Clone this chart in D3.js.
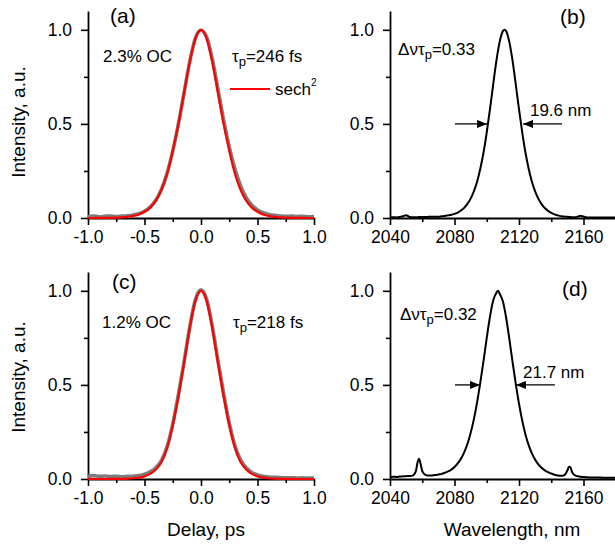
<!DOCTYPE html>
<html>
<head>
<meta charset="utf-8">
<script src="https://cdn.jsdelivr.net/npm/d3@7"></script>
<style>
  body { margin: 0; background: #fff; }
  text { font-family: "Liberation Sans", Arial, sans-serif; fill: #000; }
</style>
</head>
<body>
<svg id="fig" width="615" height="546"></svg>
<script>
// autocorrelation traces (a), (c)
const delay = [-1.00, -0.95, -0.90, -0.85, -0.80, -0.75, -0.70, -0.65, -0.60, -0.55, -0.50,
  -0.45, -0.40, -0.35, -0.30, -0.25, -0.20, -0.15, -0.10, -0.05, 0.00, 0.05, 0.10, 0.15,
  0.20, 0.25, 0.30, 0.35, 0.40, 0.45, 0.50, 0.55, 0.60, 0.65, 0.70, 0.75, 0.80, 0.85, 0.90,
  0.95, 1.00];

const acMeasA = [0.008, 0.010, 0.007, 0.009, 0.011, 0.008, 0.010, 0.012, 0.016, 0.023, 0.036,
  0.058, 0.094, 0.152, 0.238, 0.355, 0.500, 0.665, 0.830, 0.955, 0.998, 0.962, 0.845, 0.685,
  0.522, 0.378, 0.262, 0.172, 0.108, 0.068, 0.043, 0.028, 0.019, 0.014, 0.011, 0.009, 0.010,
  0.008, 0.009, 0.007, 0.008];
const acFitA = [0, 0, 0.001, 0.001, 0.001, 0.002, 0.003, 0.006, 0.011, 0.019, 0.033, 0.055,
  0.092, 0.150, 0.235, 0.358, 0.500, 0.664, 0.828, 0.953, 1.000, 0.953, 0.828, 0.664, 0.500,
  0.358, 0.235, 0.150, 0.092, 0.055, 0.033, 0.019, 0.011, 0.006, 0.003, 0.002, 0.001, 0.001,
  0.001, 0, 0];

const acMeasC = [0.015, 0.018, 0.014, 0.016, 0.013, 0.015, 0.012, 0.014, 0.015, 0.018, 0.025,
  0.038, 0.060, 0.098, 0.172, 0.292, 0.448, 0.622, 0.806, 0.952, 1.005, 0.955, 0.812, 0.630,
  0.455, 0.298, 0.178, 0.102, 0.060, 0.035, 0.022, 0.014, 0.011, 0.009, 0.008, 0.006, 0.007,
  0.005, 0.006, 0.005, 0.005];
const acFitC = [0, 0, 0, 0, 0.001, 0.001, 0.001, 0.002, 0.004, 0.007, 0.014, 0.027, 0.050,
  0.090, 0.165, 0.285, 0.440, 0.615, 0.800, 0.945, 1.000, 0.945, 0.800, 0.615, 0.440, 0.285,
  0.165, 0.090, 0.050, 0.027, 0.014, 0.007, 0.004, 0.002, 0.001, 0.001, 0.001, 0, 0, 0, 0];

// spectra (b), (d)
const wlB = [2040, 2042, 2044, 2046, 2048, 2050, 2052, 2054, 2056, 2058, 2060, 2062, 2064, 2066,
  2068, 2070, 2072, 2074, 2076, 2078, 2080, 2082, 2084, 2086, 2088, 2090, 2092, 2094, 2096,
  2098, 2100, 2102, 2104, 2106, 2108, 2110, 2111, 2112, 2114, 2116, 2118, 2120, 2122, 2124,
  2126, 2128, 2130, 2132, 2134, 2136, 2138, 2140, 2142, 2144, 2146, 2148, 2150, 2152, 2154,
  2156, 2158, 2160, 2162, 2164, 2166, 2168, 2170, 2172, 2174, 2176, 2178, 2180];
const specB = [0.003, 0.004, 0.003, 0.005, 0.009, 0.014, 0.007, 0.004, 0.004, 0.005, 0.005,
  0.005, 0.006, 0.007, 0.007, 0.007, 0.009, 0.011, 0.014, 0.017, 0.022, 0.029, 0.040, 0.054,
  0.075, 0.103, 0.142, 0.193, 0.262, 0.348, 0.455, 0.578, 0.710, 0.836, 0.936, 0.993, 1.000,
  0.993, 0.936, 0.836, 0.710, 0.578, 0.455, 0.348, 0.262, 0.193, 0.142, 0.103, 0.074, 0.053,
  0.038, 0.027, 0.019, 0.014, 0.010, 0.008, 0.006, 0.005, 0.004, 0.006, 0.012, 0.008, 0.003,
  0.002, 0.002, 0.002, 0.002, 0.002, 0.002, 0.002, 0.002, 0.002];

const wlD = [2040, 2042, 2044, 2046, 2048, 2050, 2052, 2054, 2056, 2057, 2058, 2059, 2060, 2062,
  2064, 2066, 2068, 2070, 2072, 2074, 2076, 2078, 2080, 2082, 2084, 2086, 2088, 2090, 2092,
  2094, 2096, 2098, 2100, 2102, 2104, 2106, 2107, 2108, 2110, 2112, 2114, 2116, 2118, 2120,
  2122, 2124, 2126, 2128, 2130, 2132, 2134, 2136, 2138, 2140, 2142, 2144, 2146, 2148, 2150,
  2151, 2152, 2153, 2155, 2158, 2160, 2164, 2168, 2172, 2176, 2180];
const specD = [0.010, 0.012, 0.011, 0.013, 0.014, 0.015, 0.016, 0.018, 0.040, 0.085, 0.108,
  0.080, 0.042, 0.022, 0.018, 0.019, 0.021, 0.024, 0.027, 0.033, 0.040, 0.050, 0.064, 0.083,
  0.108, 0.142, 0.186, 0.244, 0.317, 0.407, 0.512, 0.628, 0.750, 0.862, 0.948, 0.990, 1.000,
  0.985, 0.944, 0.858, 0.745, 0.622, 0.505, 0.400, 0.310, 0.237, 0.180, 0.136, 0.103, 0.078,
  0.060, 0.046, 0.036, 0.029, 0.023, 0.019, 0.017, 0.020, 0.045, 0.065, 0.060, 0.035, 0.018,
  0.012, 0.010, 0.008, 0.008, 0.007, 0.007, 0.006];

// ticks
const delayMajor = [-1, -0.5, 0, 0.5, 1];
const delayMinor = [-0.75, -0.25, 0.25, 0.75];
const wlMajor = [2040, 2080, 2120, 2160];
const wlMinor = [2060, 2100, 2140, 2180];
const yMajor = [0, 0.5, 1];
const yMinor = [0.25, 0.75];

const svg = d3.select('#fig');

svg.append('defs').append('marker')
  .attr('id', 'arrow')
  .attr('viewBox', '0 0 10 8')
  .attr('refX', 10)
  .attr('refY', 4)
  .attr('markerWidth', 10)
  .attr('markerHeight', 8)
  .attr('markerUnits', 'userSpaceOnUse')
  .attr('orient', 'auto')
  .append('path')
  .attr('d', 'M0,0L10,4L0,8Z')
  .attr('fill', '#000');

function makePanel(cfg) {
  const x = d3.scaleLinear().domain(cfg.xDomain).range(cfg.xRange);
  const y = d3.scaleLinear().domain([0, 1.1]).range(cfg.yRange);
  const g = svg.append('g');

  const styleAxis = (sel) => {
    sel.selectAll('path.domain').attr('stroke-width', 1.8);
    sel.selectAll('.tick line').attr('stroke-width', 1.6);
    sel.selectAll('text').attr('font-size', 17.5).attr('font-family', '"Liberation Sans", Arial, sans-serif');
  };

  // minor ticks first, then major axis on top
  g.append('g')
    .attr('transform', `translate(0,${cfg.yRange[0]})`)
    .call(d3.axisBottom(x).tickValues(cfg.xMinor).tickSize(4).tickFormat(''))
    .call((s) => s.select('.domain').remove())
    .call(styleAxis);
  g.append('g')
    .attr('transform', `translate(0,${cfg.yRange[0]})`)
    .call(d3.axisBottom(x).tickValues(cfg.xMajor).tickSize(7).tickSizeOuter(0)
      .tickPadding(6).tickFormat(cfg.xFormat))
    .call(styleAxis);

  g.append('g')
    .attr('transform', `translate(${cfg.xRange[0]},0)`)
    .call(d3.axisLeft(y).tickValues(yMinor).tickSize(4).tickFormat(''))
    .call((s) => s.select('.domain').remove())
    .call(styleAxis);
  g.append('g')
    .attr('transform', `translate(${cfg.xRange[0]},0)`)
    .call(d3.axisLeft(y).tickValues(yMajor).tickSize(7).tickSizeOuter(0)
      .tickPadding(9).tickFormat((d) => d.toFixed(1)))
    .call(styleAxis);

  const line = d3.line()
    .x((d) => x(d[0]))
    .y((d) => y(d[1]))
    .curve(d3.curveMonotoneX);

  cfg.series.forEach((s) => {
    g.append('path')
      .datum(s.xs.map((v, i) => [v, s.ys[i]]))
      .attr('fill', 'none')
      .attr('stroke', s.color)
      .attr('stroke-width', s.width)
      .attr('stroke-linejoin', 'round')
      .attr('d', line);
  });

  return { g, x, y };
}

function addText(g, px, py, parts, size) {
  const t = g.append('text').attr('x', px).attr('y', py).attr('font-size', size);
  parts.forEach((p) => {
    const ts = t.append('tspan').text(p.s);
    if (p.dy) ts.attr('dy', p.dy);
    if (p.fs) ts.attr('font-size', p.fs);
  });
  return t;
}

function tauText(g, px, py, rest) {
  return addText(g, px, py, [
    { s: 'τ' },
    { s: 'p', dy: 4, fs: 13 },
    { s: rest, dy: -4 },
  ], 17);
}

function dnuText(g, px, py, rest) {
  return addText(g, px, py, [
    { s: 'Δντ' },
    { s: 'p', dy: 4, fs: 13 },
    { s: rest, dy: -4 },
  ], 17);
}

function arrow(p, x1, x2, yv) {
  p.g.append('line')
    .attr('x1', p.x(x1)).attr('x2', p.x(x2))
    .attr('y1', p.y(yv)).attr('y2', p.y(yv))
    .attr('stroke', '#000')
    .attr('stroke-width', 1.3)
    .attr('marker-end', 'url(#arrow)');
}

const fmtDelay = (d) => d.toFixed(1);
const fmtWl = (d) => String(d);

// (a)
const pa = makePanel({
  xDomain: [-1, 1], xRange: [88, 314], yRange: [218, 11],
  xMajor: delayMajor, xMinor: delayMinor, xFormat: fmtDelay,
  series: [
    { xs: delay, ys: acMeasA, color: '#7d7d7d', width: 3.6 },
    { xs: delay, ys: acFitA, color: '#ff0000', width: 2.2 },
  ],
});
addText(pa.g, pa.x(-0.805), pa.y(1.037), [{ s: '(a)' }], 21);
addText(pa.g, pa.x(-0.867), pa.y(0.83), [{ s: '2.3% OC' }], 17);
tauText(pa.g, pa.x(0.274), pa.y(0.83), '=246 fs');
pa.g.append('line')
  .attr('x1', pa.x(0.257)).attr('x2', pa.x(0.611))
  .attr('y1', pa.y(0.686)).attr('y2', pa.y(0.686))
  .attr('stroke', '#ff0000').attr('stroke-width', 2);
addText(pa.g, pa.x(0.655), pa.y(0.654), [
  { s: 'sech' },
  { s: '2', dy: -9, fs: 10 },
], 17);

// (b)
const pb = makePanel({
  xDomain: [2040, 2180], xRange: [390, 615.75], yRange: [218, 11],
  xMajor: wlMajor, xMinor: wlMinor, xFormat: fmtWl,
  series: [{ xs: wlB, ys: specB, color: '#000', width: 2 }],
});
addText(pb.g, pb.x(2145.4), pb.y(1.032), [{ s: '(b)' }], 21);
dnuText(pb.g, pb.x(2045), pb.y(0.867), '=0.33');
addText(pb.g, pb.x(2126.8), pb.y(0.543), [{ s: '19.6 nm' }], 17);
arrow(pb, 2080.3, 2100.2, 0.5);
arrow(pb, 2146.7, 2122.5, 0.5);

// (c)
const pc = makePanel({
  xDomain: [-1, 1], xRange: [88, 314], yRange: [479, 272],
  xMajor: delayMajor, xMinor: delayMinor, xFormat: fmtDelay,
  series: [
    { xs: delay, ys: acMeasC, color: '#7d7d7d', width: 3.6 },
    { xs: delay, ys: acFitC, color: '#ff0000', width: 2.2 },
  ],
});
addText(pc.g, pc.x(-0.788), pc.y(1.011), [{ s: '(c)' }], 21);
addText(pc.g, pc.x(-0.876), pc.y(0.803), [{ s: '1.2% OC' }], 17);
tauText(pc.g, pc.x(0.283), pc.y(0.803), '=218 fs');

// (d)
const pd = makePanel({
  xDomain: [2040, 2180], xRange: [390, 615.75], yRange: [479, 272],
  xMajor: wlMajor, xMinor: wlMinor, xFormat: fmtWl,
  series: [{ xs: wlD, ys: specD, color: '#000', width: 2 }],
});
addText(pd.g, pd.x(2146.7), pd.y(0.973), [{ s: '(d)' }], 21);
dnuText(pd.g, pd.x(2046.2), pd.y(0.846), '=0.32');
addText(pd.g, pd.x(2122.5), pd.y(0.537), [{ s: '21.7 nm' }], 17);
arrow(pd, 2080.3, 2095.8, 0.5);
arrow(pd, 2142.3, 2118.1, 0.5);

// axis titles
svg.append('text')
  .attr('x', 206).attr('y', 536)
  .attr('text-anchor', 'middle')
  .attr('font-size', 19)
  .text('Delay, ps');
svg.append('text')
  .attr('x', 512).attr('y', 536)
  .attr('text-anchor', 'middle')
  .attr('font-size', 19)
  .text('Wavelength, nm');
[122, 377].forEach((cy) => {
  svg.append('text')
    .attr('transform', `translate(25,${cy}) rotate(-90)`)
    .attr('text-anchor', 'middle')
    .attr('font-size', 19)
    .text('Intensity, a.u.');
});
</script>
</body>
</html>
